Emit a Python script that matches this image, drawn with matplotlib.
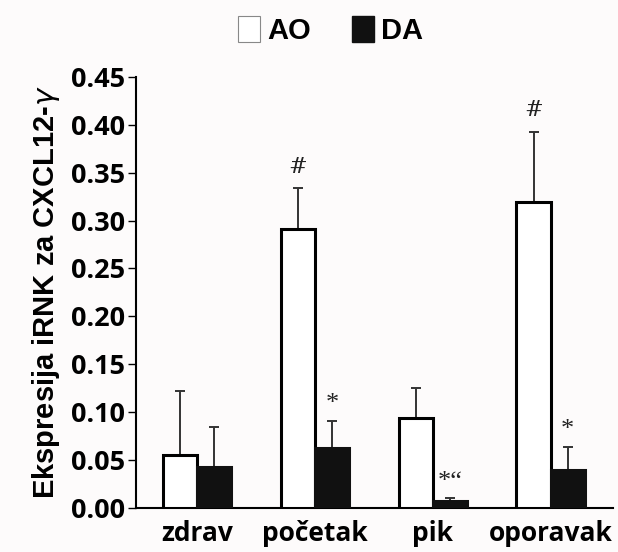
import matplotlib
matplotlib.use("Agg")
import matplotlib.pyplot as plt
from matplotlib.patches import Patch
import numpy as np

categories = ["zdrav", "početak", "pik", "oporavak"]
ao_values = [0.055, 0.291, 0.094, 0.319]
ao_errors = [0.067, 0.043, 0.031, 0.074]
da_values = [0.043, 0.0625, 0.0075, 0.040]
da_errors = [0.041, 0.028, 0.0025, 0.024]
ao_marks = ["", "#", "", "#"]
da_marks = ["", "*", "*\u201c", "*"]
yticks = [0.00, 0.05, 0.10, 0.15, 0.20, 0.25, 0.30, 0.35, 0.40, 0.45]

bg = "#fdfbfb"
fig = plt.figure(figsize=(6.18, 5.52), dpi=100, facecolor=bg)
ax = fig.add_axes([0.220, 0.080, 0.772, 0.7805])
ax.set_facecolor(bg)

x = np.arange(len(categories))
w = 0.29
ax.bar(x - w / 2, ao_values, w, color="white", edgecolor="black", linewidth=2.2, zorder=3)
ax.bar(x + w / 2, da_values, w, color="#111111", edgecolor="#111111", linewidth=2.2, zorder=3)
ax.errorbar(x - w / 2, ao_values, yerr=[np.zeros(4), ao_errors], fmt="none",
            ecolor="#333333", elinewidth=1.4, capsize=3.5, capthick=1.4, zorder=2)
ax.errorbar(x + w / 2, da_values, yerr=[np.zeros(4), da_errors], fmt="none",
            ecolor="#333333", elinewidth=1.4, capsize=3.5, capthick=1.4, zorder=2)

for i in range(len(categories)):
    if ao_marks[i]:
        ax.text(x[i] - w / 2, ao_values[i] + ao_errors[i] + 0.011, ao_marks[i],
                ha="center", va="bottom", fontsize=16, color="#222222",
                family="DejaVu Serif", clip_on=False)
    if da_marks[i]:
        ax.text(x[i] + w / 2, da_values[i] + da_errors[i] + 0.006, da_marks[i],
                ha="center", va="bottom", fontsize=19, color="#222222",
                family="Liberation Serif", clip_on=False)

ax.set_xlim(-0.52, 3.53)
ax.set_ylim(0, 0.45)
ax.set_yticks(yticks)
ax.set_yticklabels([f"{v:.2f}" for v in yticks], fontsize=19.5, fontweight="bold",
                   family="Open Sans")
ax.set_xticks(x)
ax.set_xticklabels(categories, fontsize=19, fontweight="bold", family="Open Sans")
ax.tick_params(axis="x", length=0, pad=9)
ax.tick_params(axis="y", length=6, width=1.0, pad=2)
for s in ["top", "right"]:
    ax.spines[s].set_visible(False)
ax.spines["left"].set_linewidth(1.5)
ax.spines["bottom"].set_linewidth(1.5)

ax.set_ylabel("Ekspresija iRNK za CXCL12-$\\gamma$", fontsize=21, fontweight="bold",
              family="Liberation Sans", labelpad=6)

handles = [Patch(facecolor="white", edgecolor="#888888", linewidth=0.8),
           Patch(facecolor="#111111", edgecolor="#111111")]
fig.legend(handles, ["AO", "DA"], loc="center", bbox_to_anchor=(0.535, 0.945), ncol=2,
           frameon=False, handlelength=0.75, handleheight=1.0, handletextpad=0.25,
           columnspacing=1.4,
           prop={"family": ["Liberation Sans Narrow", "Liberation Sans"], "weight": "bold", "size": 21})

fig.savefig("out.png", dpi=100, facecolor=bg)
